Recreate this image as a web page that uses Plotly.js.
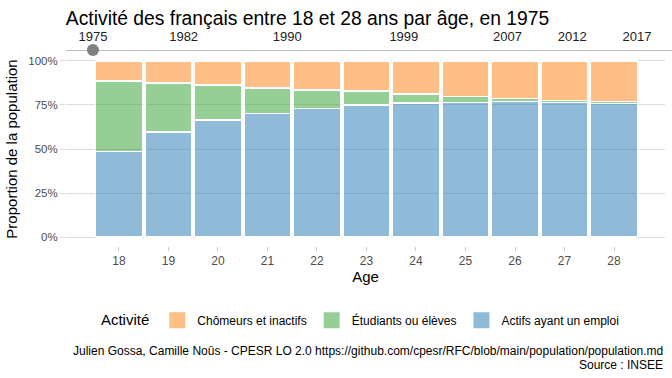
<!DOCTYPE html>
<html><head><meta charset="utf-8">
<script src="https://cdn.plot.ly/plotly-3.0.1.min.js"></script>
<style>body{margin:0;padding:0;background:#fff}#chart{width:672px;height:378px}</style>
</head><body><div id="chart"></div>
<script>
const ages = ['18','19','20','21','22','23','24','25','26','27','28'];
const actifs = [0.486,0.597,0.665,0.701,0.731,0.750,0.760,0.765,0.769,0.765,0.758];
const etudiants = [0.400,0.278,0.197,0.146,0.104,0.078,0.051,0.032,0.017,0.011,0.011];
const chomeurs = [0.114,0.125,0.138,0.153,0.165,0.172,0.189,0.203,0.214,0.224,0.231];
const years = [1975,1982,1990,1999,2007,2012,2017];
const currentYear = [1975];

const font = 'Liberation Sans, Arial, sans-serif';
const colors = {
  'Actifs ayant un emploi':'rgba(31,119,180,0.5)',
  'Étudiants ou élèves':'rgba(44,160,44,0.5)',
  'Chômeurs et inactifs':'rgba(255,127,14,0.5)'
};
function bar(name, y){
  return {type:'bar', name:name, x:ages, y:y, width:0.95, showlegend:false,
    marker:{color:colors[name], line:{color:'#ffffff', width:1.5}},
    hoverinfo:'skip'};
}
function legendItem(name){
  return {type:'scatter', mode:'markers', name:name, x:[null], y:[null],
    marker:{symbol:'square', size:18, color:colors[name], line:{width:0}},
    hoverinfo:'skip'};
}
const traces = [
  bar('Actifs ayant un emploi', actifs),
  bar('Étudiants ou élèves', etudiants),
  bar('Chômeurs et inactifs', chomeurs),
  legendItem('Actifs ayant un emploi'),
  legendItem('Étudiants ou élèves'),
  legendItem('Chômeurs et inactifs'),
  {type:'scatter', mode:'markers', x:currentYear, y:[1], xaxis:'x2', yaxis:'y2',
   marker:{color:'#808080', size:12}, showlegend:false, cliponaxis:false, hoverinfo:'skip'}
];
const layout = {
  width:672, height:378,
  margin:{l:66, r:7, t:40, b:132},
  paper_bgcolor:'#fff', plot_bgcolor:'#fff',
  font:{family:font, color:'#000'},
  barmode:'stack', bargap:0.05,
  title:{text:'Activité des français entre 18 et 28 ans par âge, en 1975',
    x:0.098, xanchor:'left', y:0.953, yanchor:'middle', font:{size:19.3, color:'#000'}},
  xaxis:{type:'category', range:[-1.07,11.03], showgrid:false, zeroline:false,
    ticks:'outside', ticklen:4, tickcolor:'#cccccc', tickfont:{size:12, color:'#4d4d4d'},
    title:{text:'Age', font:{size:15}, standoff:4}, fixedrange:true},
  yaxis:{domain:[0,0.9417], range:[-0.05,1.05], tickvals:[0,0.25,0.5,0.75,1],
    ticktext:['0%','25%','50%','75%','100%'], gridcolor:'#dcdcdc', gridwidth:1,
    zeroline:false, ticks:'outside', ticklen:5, tickcolor:'#dcdcdc',
    tickfont:{size:11.5, color:'#4d4d4d'},
    title:{text:'Proportion de la population', font:{size:15}, standoff:7}},
  xaxis2:{anchor:'y2', side:'top', range:[1972.92,2019.16], tickvals:years,
    ticktext:years.map(String), showgrid:false, zeroline:false, showline:false,
    ticks:'', tickfont:{size:13, color:'#222'}, ticklabelstandoff:5},
  yaxis2:{domain:[0.945,0.9515], range:[0,1], visible:false},
  shapes:[{type:'line', xref:'paper', yref:'y2', x0:0, x1:1.012, y0:1, y1:1,
    line:{color:'#7a7a7a', width:1.2}}],
  legend:{orientation:'h', traceorder:'reversed', x:0.055, xanchor:'left',
    y:-0.29, yanchor:'top', font:{size:12}, itemwidth:30, itemsizing:'trace',
    title:{text:'Activité', font:{size:15}, side:'left'}},
  annotations:[
    {xref:'paper', yref:'paper', x:1.0, y:-0.51, xanchor:'right', yanchor:'middle',
    align:'right', showarrow:false, font:{size:12, color:'#000'},
    text:'Julien Gossa, Camille Noûs - CPESR LO 2.0 https://github.com/cpesr/RFC/blob/main/population/population.md'},
    {xref:'paper', yref:'paper', x:1.0, y:-0.578, xanchor:'right', yanchor:'middle',
    align:'right', showarrow:false, font:{size:12, color:'#000'},
    text:'Source : INSEE'}]
};
Plotly.newPlot('chart', traces, layout, {displayModeBar:false, staticPlot:true});
</script></body></html>
